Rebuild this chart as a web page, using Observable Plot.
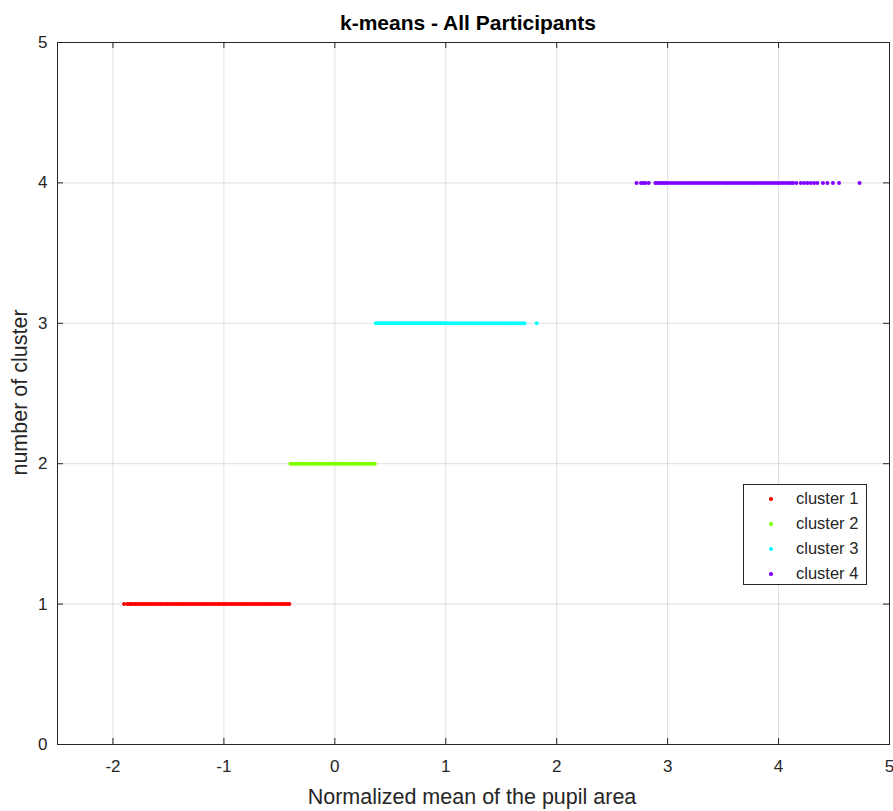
<!DOCTYPE html>
<html>
<head>
<meta charset="utf-8">
<script src="https://cdn.jsdelivr.net/npm/d3@7"></script>
<script src="https://cdn.jsdelivr.net/npm/@observablehq/plot@0.6"></script>
<style>
  body { margin: 0; background: #fff; }
  #wrap { position: relative; width: 893px; height: 811px; background: #fff; font-family: "Liberation Sans", Arial, Helvetica, sans-serif; color: #262626; }
  #wrap svg { position: absolute; left: 0; top: 0; }
  #wrap svg text { font-size: 17px; }
  .title { position: absolute; left: 268px; width: 400px; top: 12px; text-align: center; font-weight: bold; font-size: 21px; line-height: 21px; color: #000; white-space: nowrap; }
  .xlabel { position: absolute; left: 272px; width: 400px; top: 787px; text-align: center; font-size: 21.5px; line-height: 21px; white-space: nowrap; }
  .ylabel { position: absolute; left: -180px; width: 400px; top: 382px; text-align: center; font-size: 21.5px; line-height: 21px; transform: rotate(-90deg); white-space: nowrap; }
  .legend { position: absolute; left: 743px; top: 484px; width: 122px; height: 99px; border: 1px solid #262626; background: #fff; }
  .legend .row { position: absolute; left: 0; height: 25px; width: 122px; font-size: 16.5px; line-height: 25px; }
  .legend .dot { position: absolute; left: 25px; top: 11px; width: 3.5px; height: 3.5px; border-radius: 50%; }
  .legend .txt { position: absolute; left: 52px; top: 0; white-space: nowrap; }
</style>
</head>
<body>
<div id="wrap"></div>
<script>
const clusterNames = ["cluster 1", "cluster 2", "cluster 3", "cluster 4"];
const clusterColors = ["#ff0000", "#80ff00", "#00ffff", "#8000ff"];
const clusterY = [1, 2, 3, 4];

const cluster1X = [-1.90, -1.87, -1.85, -1.84, -1.82, -1.80, -1.79, -1.77, -1.75, -1.73, -1.71, -1.69, -1.67, -1.65, -1.63, -1.61, -1.59, -1.57, -1.55, -1.53, -1.51, -1.49, -1.47, -1.45, -1.43, -1.41, -1.39, -1.37, -1.35, -1.33, -1.31, -1.29, -1.27, -1.25, -1.23, -1.21, -1.19, -1.17, -1.15, -1.13, -1.11, -1.09, -1.07, -1.05, -1.03, -1.01, -0.99, -0.97, -0.95, -0.93, -0.91, -0.89, -0.87, -0.85, -0.83, -0.81, -0.79, -0.77, -0.75, -0.73, -0.71, -0.69, -0.67, -0.65, -0.63, -0.61, -0.59, -0.57, -0.55, -0.53, -0.51, -0.49, -0.47, -0.45, -0.43, -0.41];
const cluster2X = [-0.40, -0.38, -0.36, -0.34, -0.32, -0.30, -0.28, -0.26, -0.24, -0.22, -0.20, -0.18, -0.16, -0.14, -0.12, -0.10, -0.08, -0.06, -0.04, -0.02, 0.00, 0.02, 0.04, 0.06, 0.08, 0.10, 0.12, 0.14, 0.16, 0.18, 0.20, 0.22, 0.24, 0.26, 0.28, 0.30, 0.32, 0.34, 0.36];
const cluster3X = [0.37, 0.39, 0.41, 0.43, 0.45, 0.47, 0.49, 0.51, 0.53, 0.55, 0.57, 0.59, 0.61, 0.63, 0.65, 0.67, 0.69, 0.71, 0.73, 0.75, 0.77, 0.79, 0.81, 0.83, 0.85, 0.87, 0.89, 0.91, 0.93, 0.95, 0.97, 0.99, 1.015, 1.04, 1.065, 1.09, 1.115, 1.14, 1.165, 1.19, 1.215, 1.24, 1.265, 1.29, 1.315, 1.34, 1.365, 1.39, 1.415, 1.44, 1.465, 1.49, 1.515, 1.54, 1.565, 1.59, 1.615, 1.64, 1.665, 1.69, 1.71, 1.82];
const cluster4X = [2.72, 2.76, 2.78, 2.80, 2.83, 2.89, 2.91, 2.93, 2.95, 2.97, 2.99, 3.015, 3.04, 3.065, 3.09, 3.115, 3.14, 3.165, 3.19, 3.215, 3.24, 3.265, 3.29, 3.315, 3.34, 3.365, 3.39, 3.415, 3.44, 3.465, 3.49, 3.515, 3.54, 3.565, 3.59, 3.615, 3.64, 3.665, 3.69, 3.715, 3.74, 3.765, 3.79, 3.815, 3.84, 3.865, 3.89, 3.915, 3.94, 3.965, 3.99, 4.015, 4.04, 4.065, 4.09, 4.115, 4.13, 4.16, 4.20, 4.23, 4.26, 4.29, 4.32, 4.35, 4.40, 4.44, 4.49, 4.545, 4.73];

const xTicks = [-2, -1, 0, 1, 2, 3, 4, 5];
const yTicks = [0, 1, 2, 3, 4, 5];
const xGrid = [-2, -1, 0, 1, 2, 3, 4];
const yGrid = [1, 2, 3, 4];

const titleText = "k-means - All Participants";
const xLabelText = "Normalized mean of the pupil area";
const yLabelText = "number of cluster";

const seriesX = [cluster1X, cluster2X, cluster3X, cluster4X];
const points = seriesX.flatMap((xs, i) => xs.map(x => ({x, y: clusterY[i], cluster: clusterNames[i]})));

const W = 893, H = 811, mL = 57, mR = 4, mT = 42, mB = 67;
const innerW = W - mL - mR, innerH = H - mT - mB;
const tk = 6;
const fmt = d => String(d);

const chart = Plot.plot({
  width: W, height: H,
  marginLeft: mL, marginRight: mR, marginTop: mT, marginBottom: mB,
  style: {fontFamily: "'Liberation Sans', Arial, Helvetica, sans-serif", fontSize: "17px", color: "#262626", background: "#fff"},
  x: {domain: [-2.5, 5], label: null},
  y: {domain: [0, 5], label: null},
  color: {domain: clusterNames, range: clusterColors},
  marks: [
    Plot.gridX(xGrid, {stroke: "#262626", strokeOpacity: 0.15}),
    Plot.gridY(yGrid, {stroke: "#262626", strokeOpacity: 0.15}),
    Plot.axisX(xTicks, {tickSize: 0, tickPadding: 15, label: null, fill: "#262626", tickFormat: fmt}),
    Plot.axisY(yTicks, {tickSize: 0, tickPadding: 10, label: null, fill: "#262626", tickFormat: fmt}),
    Plot.ruleX(xTicks, {x: d => d, insetTop: innerH - tk, stroke: "#262626"}),
    Plot.ruleX(xTicks, {x: d => d, insetBottom: innerH - tk, stroke: "#262626"}),
    Plot.ruleY(yTicks, {y: d => d, insetRight: innerW - tk, stroke: "#262626"}),
    Plot.ruleY(yTicks, {y: d => d, insetLeft: innerW - tk, stroke: "#262626"}),
    Plot.dot(points, {x: "x", y: "y", fill: "cluster", r: 2, stroke: null}),
    Plot.frame({stroke: "#262626"})
  ]
});

const wrap = document.getElementById("wrap");
wrap.appendChild(chart);

const t = document.createElement("div"); t.className = "title"; t.textContent = titleText; wrap.appendChild(t);
const xl = document.createElement("div"); xl.className = "xlabel"; xl.textContent = xLabelText; wrap.appendChild(xl);
const yl = document.createElement("div"); yl.className = "ylabel"; yl.textContent = yLabelText; wrap.appendChild(yl);

const lg = document.createElement("div"); lg.className = "legend";
clusterNames.forEach((name, i) => {
  const row = document.createElement("div"); row.className = "row"; row.style.top = (1 + i * 25) + "px";
  const d = document.createElement("div"); d.className = "dot"; d.style.background = clusterColors[i];
  const s = document.createElement("div"); s.className = "txt"; s.textContent = name;
  row.appendChild(d); row.appendChild(s); lg.appendChild(row);
});
wrap.appendChild(lg);
</script>
</body>
</html>
